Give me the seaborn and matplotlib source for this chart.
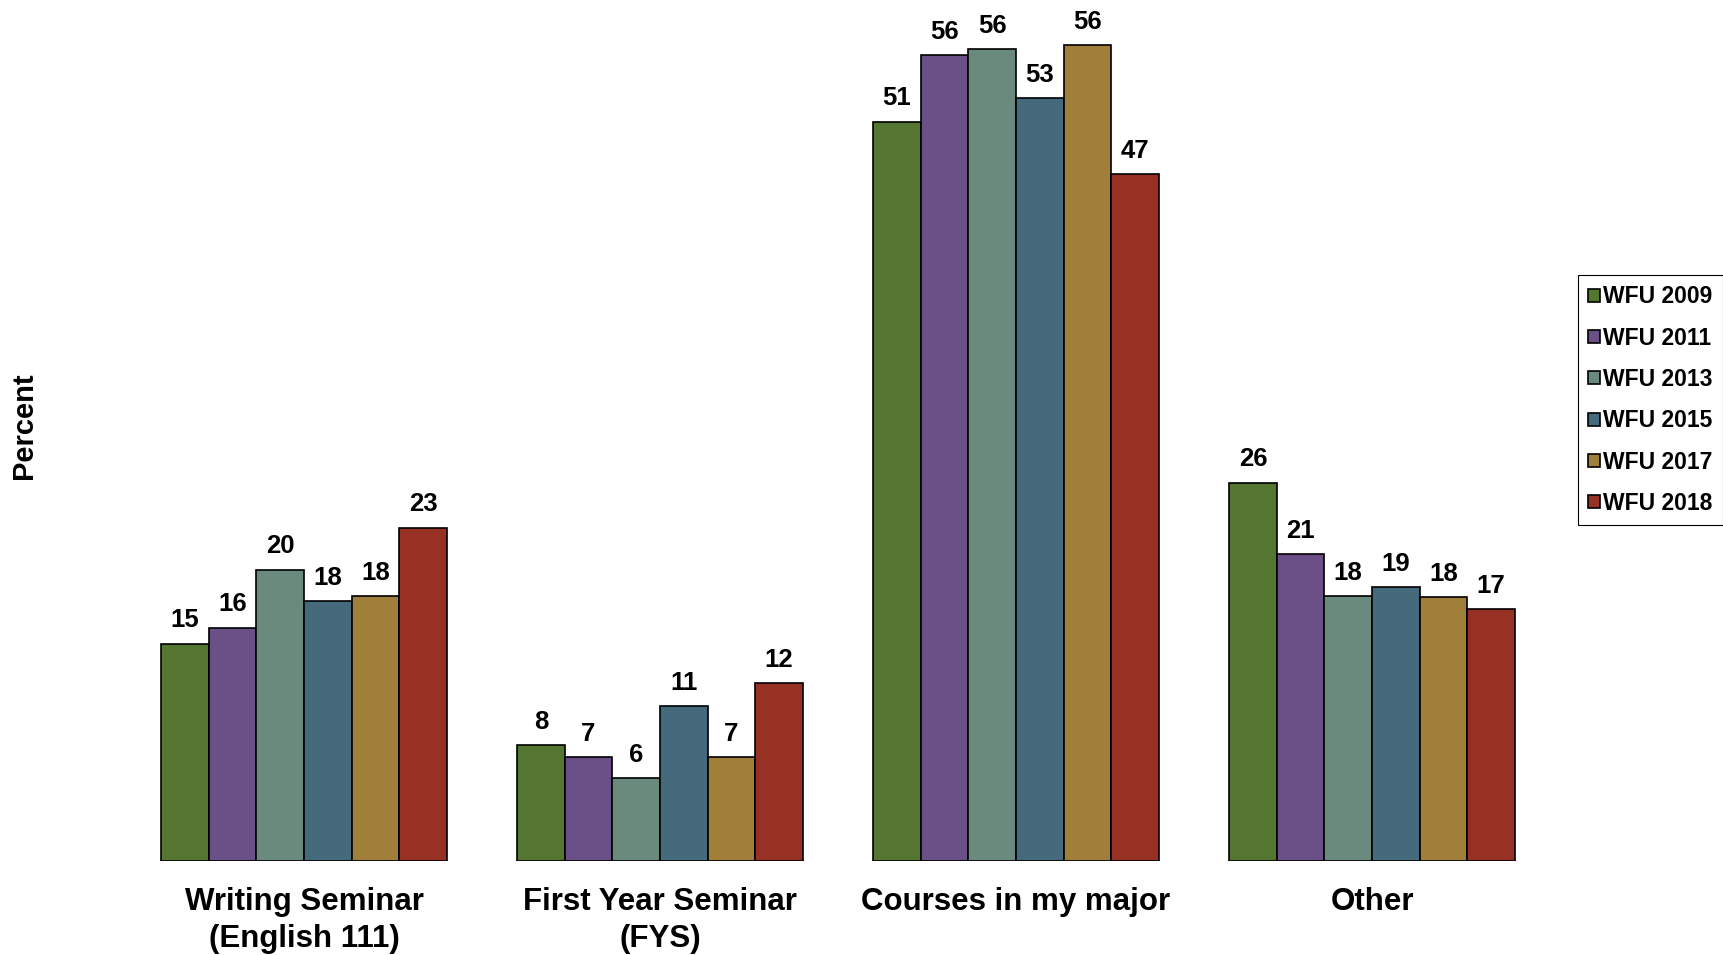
import numpy as np
import pandas as pd
import matplotlib
matplotlib.use('Agg')
import matplotlib.pyplot as plt
import seaborn as sns

# data
categories = ['Writing Seminar\n(English 111)', 'First Year Seminar\n(FYS)',
              'Courses in my major', 'Other']
years = ['WFU 2009', 'WFU 2011', 'WFU 2013', 'WFU 2015', 'WFU 2017', 'WFU 2018']
wfu_2009 = [15.0, 8.0, 51.0, 26.1]
wfu_2011 = [16.1, 7.2, 55.6, 21.2]
wfu_2013 = [20.1, 5.7, 56.0, 18.3]
wfu_2015 = [17.9, 10.7, 52.6, 18.9]
wfu_2017 = [18.3, 7.2, 56.3, 18.2]
wfu_2018 = [23.0, 12.3, 47.4, 17.4]
colors = ['#557630', '#6A5086', '#6A8A7E', '#456A7C', '#A07F3A', '#963124']

series = [wfu_2009, wfu_2011, wfu_2013, wfu_2015, wfu_2017, wfu_2018]
df = pd.DataFrame({
    'Category': np.tile(categories, len(years)),
    'Year': np.repeat(years, len(categories)),
    'Percent': np.concatenate(series),
})

sns.set_theme(style='white')
plt.rcParams['font.family'] = ['Liberation Sans', 'DejaVu Sans']
plt.rcParams['font.weight'] = 'bold'
plt.rcParams['text.color'] = 'black'
plt.rcParams['xtick.color'] = 'black'
plt.rcParams['axes.labelcolor'] = 'black'

fig = plt.figure(figsize=(17.23, 9.55), dpi=100)
ax = fig.add_axes([0.0731, 0.0984, 0.8265, 0.8958])

sns.barplot(data=df, x='Category', y='Percent', hue='Year', order=categories,
            hue_order=years, palette=colors, edgecolor='black', linewidth=1.2,
            width=0.803, gap=0, saturation=1, errorbar=None, ax=ax)

for cont in ax.containers:
    ax.bar_label(cont, labels=['{:.0f}'.format(v) for v in cont.datavalues],
                 padding=8, fontsize=18.5, fontweight='bold', color='black')

ax.set_xlim(-0.5, 3.5)
ax.set_ylim(0, 59)
ax.set_xlabel('')
ax.set_ylabel('')
ax.set_yticks([])
ax.tick_params(axis='x', length=0, pad=19, labelsize=22.5, labelcolor='black')
for lbl in ax.get_xticklabels():
    lbl.set_fontweight('bold')
    lbl.set_linespacing(1.3)
sns.despine(ax=ax, left=True, bottom=True)

fig.text(0.014, 0.554, 'Percent', rotation=90, ha='center', va='center',
         fontsize=21, fontweight='bold', color='black')

ax.get_legend().remove()
handles = [plt.Rectangle((0, 0), 1, 1, facecolor=c, edgecolor='black', linewidth=1.2)
           for c in colors]
leg = fig.legend(handles, years, loc='upper left', bbox_to_anchor=(0.9158, 0.712),
                 bbox_transform=fig.transFigure, borderaxespad=0, fancybox=False,
                 frameon=True, edgecolor='black', framealpha=1, fontsize=16.5,
                 handlelength=0.5, handleheight=0.5, handletextpad=0.15,
                 labelspacing=0.8, borderpad=0.45)
leg.get_frame().set_linewidth(0.8)
for t in leg.get_texts():
    t.set_fontweight('bold')
    t.set_color('black')

plt.savefig('out.png', dpi=100)
